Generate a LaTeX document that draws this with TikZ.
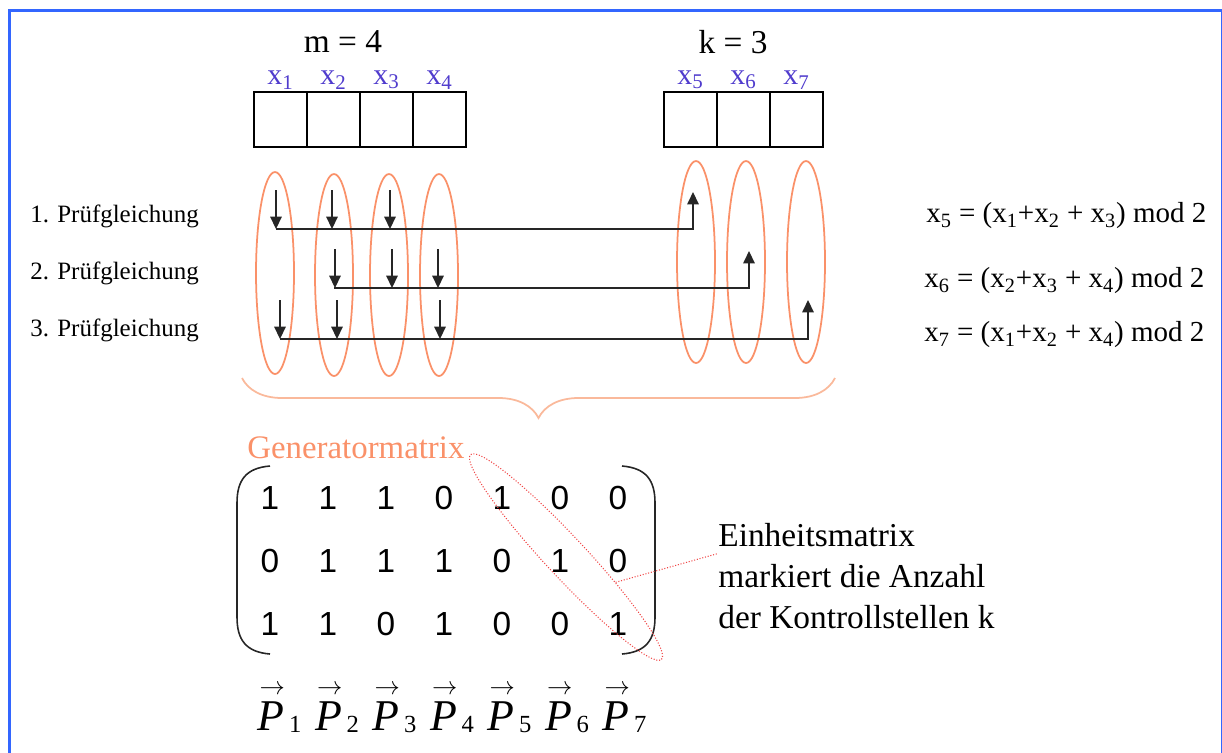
\documentclass[tikz,border=0pt]{standalone}
\usepackage{fontspec}
\setmainfont{Liberation Serif}
\newfontfamily\digitfont{Liberation Sans}
\usepackage{tikz}
\usetikzlibrary{arrows.meta,positioning,shapes.geometric,decorations.pathreplacing}
\definecolor{frameblue}{RGB}{51,102,255}
\definecolor{labblue}{RGB}{80,60,205}
\definecolor{ringorange}{RGB}{250,145,105}
\definecolor{braceorange}{RGB}{250,185,155}
\definecolor{diagred}{RGB}{240,70,70}

\begin{document}
\begin{tikzpicture}[
  x=0.02cm, y=-0.02cm,
  box/.style={draw, line width=0.85pt, minimum width=1.06cm, minimum height=1.1cm, inner sep=0pt, outer sep=0pt},
  xlab/.style={text=labblue, inner sep=0pt, font=\fontsize{17}{20}\selectfont},
  head/.style={inner sep=0pt, font=\fontsize{19}{22}\selectfont},
  ring/.style={ellipse, draw=ringorange, line width=1pt, minimum width=0.76cm, minimum height=4.04cm, inner sep=0pt},
  sig/.style={-{Triangle[length=7pt,width=6.5pt]}, line width=0.85pt, draw=black!85},
  rowlab/.style={anchor=west, inner sep=0pt, font=\fontsize{14.2}{16}\selectfont},
  eqn/.style={anchor=west, inner sep=0pt, font=\fontsize{16.5}{20}\selectfont},
  bit/.style={inner sep=0pt, font=\digitfont\fontsize{19}{22}\selectfont},
  paren/.style={line width=0.9pt, draw=black!85},
  note/.style={anchor=west, align=left, inner sep=0pt, font=\fontsize{19}{23.5}\selectfont},
  vec/.style={anchor=base west, inner sep=0pt, font=\fontsize{25}{30}\selectfont}
]
\useasboundingbox (0,0) rectangle (1222,752);
\draw[frameblue, line width=1.7pt] (9.5,770) |- (1222,10.5) -- (1222,770);

% code word: m data bits, k check bits
\node[box] (b1) at (280.5,119.5) {};
\node[box, right=0pt of b1] (b2) {};
\node[box, right=0pt of b2] (b3) {};
\node[box, right=0pt of b3] (b4) {};
\node[box] (b5) at (690.5,119.5) {};
\node[box, right=0pt of b5] (b6) {};
\node[box, right=0pt of b6] (b7) {};
\foreach \i in {1,...,7}
  \node[xlab, above=1.5pt of b\i] (x\i) {x\textsubscript{\i}};
\node[head] (mlab) at (343,42) {m = 4};
\node[head] (klab) at (733,42) {k = 3};

% columns
\foreach \x/\y [count=\i] in {275/273,334/275,389/275,439/275,696/262,746/262,806/262}
  \node[ring] (e\i) at (\x,\y) {};

% Pruefgleichungen
\node[rowlab] (l1) at (30,216) {1. Prüfgleichung};
\node[rowlab] (l2) at (30,273) {2. Prüfgleichung};
\node[rowlab] (l3) at (30,330) {3. Prüfgleichung};

\coordinate (r1s) at (276,229);
\coordinate (r1e) at (693,229);
\coordinate (r1t) at (693,192);
\coordinate (r2s) at (334,288);
\coordinate (r2e) at (749,288);
\coordinate (r2t) at (749,251);
\coordinate (r3s) at (280,339);
\coordinate (r3e) at (808,339);
\coordinate (r3t) at (808,300);
\draw[sig] (r1s) -- (r1e) -- (r1t);
\draw[sig] (r2s) -- (r2e) -- (r2t);
\draw[sig] (r3s) -- (r3e) -- (r3t);
\foreach \x [count=\i] in {276,332,390} {
  \coordinate (s1\i) at (\x,190);
  \draw[sig] (s1\i) -- (s1\i |- r1s);
}
\foreach \x [count=\i] in {335,392,438} {
  \coordinate (s2\i) at (\x,249);
  \draw[sig] (s2\i) -- (s2\i |- r2s);
}
\foreach \x [count=\i] in {280,337,440} {
  \coordinate (s3\i) at (\x,300);
  \draw[sig] (s3\i) -- (s3\i |- r3s);
}

\node[eqn] (q1) at (926,216) {x\textsubscript{5} = (x\textsubscript{1}+x\textsubscript{2} + x\textsubscript{3}) mod 2};
\node[eqn] (q2) at (924,281) {x\textsubscript{6} = (x\textsubscript{2}+x\textsubscript{3} + x\textsubscript{4}) mod 2};
\node[eqn] (q3) at (924,335) {x\textsubscript{7} = (x\textsubscript{1}+x\textsubscript{2} + x\textsubscript{4}) mod 2};

\coordinate (braceL) at (242,378);
\coordinate (braceR) at (835,378);
\draw[braceorange, line width=1pt, decorate, decoration={brace, mirror, amplitude=0.8cm}] (braceL) -- (braceR);

% generator matrix
\node[head, anchor=west, text=ringorange, font=\fontsize{18.7}{22}\selectfont] (gen) at (247,448) {Generatormatrix};
\foreach \rowvals [count=\rw] in {{1,1,1,0,1,0,0},{0,1,1,1,0,1,0},{1,1,0,1,0,0,1}}
  \foreach \v [count=\col] in \rowvals
    \node[bit] (g\rw\col) at ({212+58*\col},{435+63*\rw}) {\v};
\draw[paren] (270,466) .. controls (246,468) and (237,480) .. (237,503) -- (237,617) .. controls (237,640) and (246,652) .. (270,654);
\draw[paren] (622,466) .. controls (646,468) and (655,480) .. (655,503) -- (655,617) .. controls (655,640) and (646,652) .. (622,654);

\node[ellipse, draw=diagred, densely dotted, line width=0.6pt, rotate=-47, minimum width=5.6cm, minimum height=0.8cm] (diag) at (566,557) {};
\node[note] (note) at (718,576) {Einheitsmatrix\\markiert die Anzahl\\der Kontrollstellen k};
\draw[diagred, densely dotted, line width=0.6pt] (diag.20) -- ([yshift=0.45cm]note.west);

% columns as vectors
\foreach \i in {1,...,7}
  \node[vec] (p\i) at ({200+57.5*\i},730) {\makebox[0pt][l]{\raisebox{0.8em}{\fontsize{15}{15}\selectfont\kern1pt$\rightarrow$}}\textit{P}\kern2.5pt\raisebox{-1.5pt}{\fontsize{14}{14}\selectfont\i}};
\end{tikzpicture}
\end{document}
